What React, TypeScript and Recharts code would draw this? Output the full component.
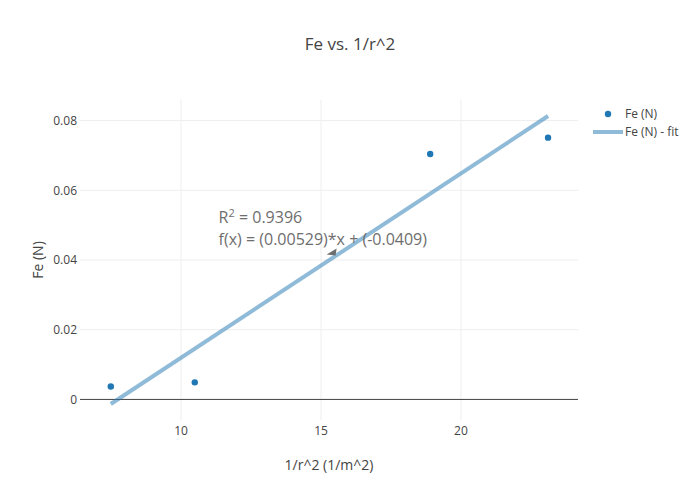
import {
  ComposedChart,
  Scatter,
  Line,
  XAxis,
  YAxis,
  ReferenceLine,
  ReferenceDot,
  Label,
} from 'recharts';

// measured points
const feX = [7.49, 10.49, 18.9, 23.11];
const feY = [0.0037, 0.0049, 0.0704, 0.0751];

// fit line endpoints as drawn
const fitX = [7.49, 23.11];
const fitY = [-0.0013, 0.0813];

const xTicks = [10, 15, 20];
const yTicks = [0, 0.02, 0.04, 0.06, 0.08];

const rSquared = '0.9396';
const fitText = 'f(x) = (0.00529)*x + (-0.0409)';
const arrowAt = { x: 15.2, y: 0.0416 };

const points = feX.map((x, i) => ({ x, y: feY[i] }));
const fitData = fitX.map((x, i) => ({ x, y: fitY[i] }));

const FONT = '"Open Sans", "Noto Sans", sans-serif';
const MARKER = '#1f77b4';
const FIT = 'rgba(31,119,180,0.5)';
const TEXT = '#444';
const NOTE = '#6e6e6e';

function Dot(props: any) {
  const { cx, cy } = props;
  if (cx == null || cy == null) return null;
  return <circle cx={cx} cy={cy} r={3.2} fill={MARKER} />;
}

function Annotation(props: any) {
  const { cx, cy } = props;
  return (
    <g>
      <text x={cx - 108} y={cy - 31} fontSize={16} fill={NOTE} fontFamily={FONT}>
        R<tspan dy={-6} fontSize={11}>2</tspan>
        <tspan dy={6}> = {rSquared}</tspan>
      </text>
      <text x={cx - 108} y={cy - 9} fontSize={16} fill={NOTE} fontFamily={FONT}>
        {fitText}
      </text>
      <polygon points={`${cx},${cy} ${cx + 10},${cy - 6} ${cx + 9},${cy + 1}`} fill={NOTE} />
    </g>
  );
}

export default function App() {
  return (
    <div style={{ position: 'absolute', left: 0, top: 0, width: 700, height: 500, background: '#fff' }}>
      <ComposedChart
        width={700}
        height={500}
        margin={{ top: 100, right: 122, bottom: 50, left: 30 }}
        style={{ fontFamily: FONT }}
      >
        <XAxis
          type="number"
          dataKey="x"
          domain={[6.39, 24.18]}
          ticks={xTicks}
          allowDataOverflow
          axisLine={false}
          tickLine={false}
          tickSize={0}
          tickMargin={6}
          height={30}
          tick={{ fontSize: 12, fill: TEXT }}
        >
          <Label value="1/r^2 (1/m^2)" position="bottom" offset={10} style={{ fontSize: 14, fill: TEXT }} />
        </XAxis>
        <YAxis
          type="number"
          dataKey="y"
          domain={[-0.0059, 0.0859]}
          ticks={yTicks}
          allowDataOverflow
          axisLine={false}
          tickLine={false}
          tickSize={0}
          tickMargin={3}
          width={50}
          tick={{ fontSize: 12, fill: TEXT }}
          tickFormatter={(v: number) => (v === 0 ? '0' : v.toFixed(2))}
        >
          <Label
            value="Fe (N)"
            angle={-90}
            position="insideLeft"
            offset={8}
            style={{ fontSize: 14, fill: TEXT, textAnchor: 'middle' }}
          />
        </YAxis>
        {xTicks.map((t) => (
          <ReferenceLine key={`gx${t}`} x={t} stroke="#eee" strokeWidth={1} />
        ))}
        {yTicks.map((t) => (
          <ReferenceLine key={`gy${t}`} y={t} stroke="#eee" strokeWidth={1} />
        ))}
        <ReferenceLine y={0} stroke={TEXT} strokeWidth={1} />
        <Line
          data={fitData}
          dataKey="y"
          type="linear"
          stroke={FIT}
          strokeWidth={4}
          dot={false}
          activeDot={false}
          isAnimationActive={false}
        />
        <Scatter data={points} dataKey="y" shape={<Dot />} isAnimationActive={false} />
        <ReferenceDot x={arrowAt.x} y={arrowAt.y} shape={(p: any) => <Annotation {...p} />} />
      </ComposedChart>
      <svg
        width={700}
        height={500}
        style={{ position: 'absolute', left: 0, top: 0, pointerEvents: 'none' }}
        fontFamily={FONT}
      >
        <text x={350} y={44} dy="0.35em" textAnchor="middle" fontSize={17} fill={TEXT}>
          Fe vs. 1/r^2
        </text>
        <circle cx={608} cy={114} r={3.2} fill={MARKER} />
        <text x={625} y={114} dy="0.35em" fontSize={12} fill={TEXT}>
          Fe (N)
        </text>
        <line x1={593} x2={623} y1={132} y2={132} stroke={FIT} strokeWidth={4} />
        <text x={625} y={132} dy="0.35em" fontSize={12} fill={TEXT}>
          Fe (N) - fit
        </text>
      </svg>
    </div>
  );
}
